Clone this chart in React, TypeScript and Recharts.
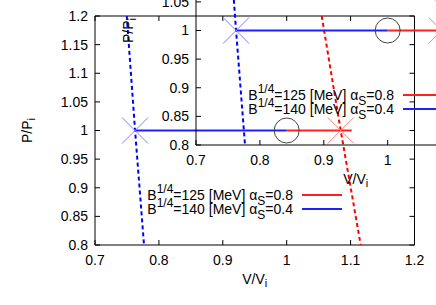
import React from "react";
import { ComposedChart, Line, Scatter, XAxis, YAxis, ReferenceArea } from "recharts";

// tick values
const xTicks = [0.7, 0.8, 0.9, 1, 1.1, 1.2];
const yTicks = [0.8, 0.85, 0.9, 0.95, 1, 1.05, 1.1, 1.15, 1.2];

// curves (v = V/Vi, p = P/Pi)
const blueDashed = [
  { v: 0.7497, p: 1.2 },
  { v: 0.7627, p: 1.0 },
  { v: 0.7767, p: 0.8 },
];
const redDashed = [
  { v: 1.0548, p: 1.2 },
  { v: 1.0662, p: 1.123 },
  { v: 1.0845, p: 1.0 },
  { v: 1.1002, p: 0.9 },
  { v: 1.1158, p: 0.8 },
];
const blueSolid = [
  { v: 0.7627, p: 1 },
  { v: 1.0, p: 1 },
];
const redSolid = [
  { v: 1.0, p: 1 },
  { v: 1.1017, p: 1 },
];
const blueCross = [{ v: 0.7627, p: 1 }];
const redCross = [{ v: 1.0845, p: 1 }];
const circles = [{ v: 1.0, p: 1 }];

// legend
const bagValues = ["125", "140"];
const alphaValues = ["0.8", "0.4"];

const W = 436;
const H = 305;
const LEFT = 95;
const RIGHT = 414.5;
const TOP = 16;
const BOTTOM = 245;
const INSET_DX = 101;
const INSET_DY = -100;
const FONT = '"Liberation Sans", Arial, sans-serif';
const RED = "#ff2020";
const BLUE = "#2020ff";
const lineColors = [RED, BLUE];

const fmt = (v: number) => String(v);

const XTick = (props: any) => {
  const { x, payload } = props;
  return (
    <g>
      <line x1={x} x2={x} y1={BOTTOM} y2={BOTTOM - 5} stroke="#000" />
      <line x1={x} x2={x} y1={TOP} y2={TOP + 5} stroke="#000" />
      <text x={x} y={265} textAnchor="middle" fontSize={14} fill="#000" fontFamily={FONT}>
        {fmt(payload.value)}
      </text>
    </g>
  );
};

const YTick = (props: any) => {
  const { y, payload } = props;
  return (
    <g>
      <line x1={LEFT} x2={LEFT + 5} y1={y} y2={y} stroke="#000" />
      <line x1={RIGHT} x2={RIGHT - 5} y1={y} y2={y} stroke="#000" />
      <text x={88} y={y} dy="0.35em" textAnchor="end" fontSize={14} fill="#000" fontFamily={FONT}>
        {fmt(payload.value)}
      </text>
    </g>
  );
};

const xTitle = () => (
  <text x={(LEFT + RIGHT) / 2} y={284} textAnchor="middle" fontSize={14} fill="#000" fontFamily={FONT}>
    V/V
    <tspan fontSize={11} dy={3}>i</tspan>
  </text>
);

const yTitle = () => (
  <text
    x={32}
    y={(TOP + BOTTOM) / 2}
    transform={`rotate(-90, 32, ${(TOP + BOTTOM) / 2})`}
    textAnchor="middle"
    fontSize={14}
    fill="#000"
    fontFamily={FONT}
  >
    P/P
    <tspan fontSize={11} dy={3}>i</tspan>
  </text>
);

const crossShape = (color: string) => (props: any) => {
  const { cx, cy } = props;
  return (
    <g>
      <line x1={cx - 13} y1={cy - 13} x2={cx + 13} y2={cy + 13} stroke={color} strokeWidth={1} />
      <line x1={cx - 13} y1={cy + 13} x2={cx + 13} y2={cy - 13} stroke={color} strokeWidth={1} />
    </g>
  );
};

const circleShape = (props: any) => (
  <circle cx={props.cx} cy={props.cy} r={12.5} fill="none" stroke="#444" strokeWidth={1} />
);

const Panel = ({ dx, dy }: { dx: number; dy: number }) => (
  <div style={{ position: "absolute", left: dx, top: dy, width: W, height: H }}>
    <ComposedChart
      width={W}
      height={H}
      margin={{ top: TOP, right: W - RIGHT, bottom: H - BOTTOM - 30, left: LEFT - 60 }}
    >
      <XAxis
        dataKey="v"
        type="number"
        domain={[0.7, 1.2]}
        ticks={xTicks}
        interval={0}
        allowDataOverflow
        height={30}
        tickSize={0}
        tickMargin={0}
        tickLine={false}
        axisLine={false}
        tick={XTick}
        label={xTitle}
      />
      <YAxis
        dataKey="p"
        type="number"
        domain={[0.8, 1.2]}
        ticks={yTicks}
        interval={0}
        allowDataOverflow
        width={60}
        tickSize={0}
        tickMargin={0}
        tickLine={false}
        axisLine={false}
        tick={YTick}
        label={yTitle}
      />
      <ReferenceArea x1={0.7} x2={1.2} y1={0.8} y2={1.2} fill="none" stroke="#000" strokeWidth={1} fillOpacity={0} />
      <Line data={blueDashed} dataKey="p" type="linear" stroke="#0000ff" strokeWidth={2} strokeDasharray="4 3" dot={false} isAnimationActive={false} />
      <Line data={redDashed} dataKey="p" type="linear" stroke="#ff0000" strokeWidth={2} strokeDasharray="4 3" dot={false} isAnimationActive={false} />
      <Line data={blueSolid} dataKey="p" type="linear" stroke={BLUE} strokeWidth={2} dot={false} isAnimationActive={false} />
      <Line data={redSolid} dataKey="p" type="linear" stroke={RED} strokeWidth={2} dot={false} isAnimationActive={false} />
      <Scatter data={blueCross} shape={crossShape("#8080ff")} isAnimationActive={false} />
      <Scatter data={redCross} shape={crossShape("#ff8080")} isAnimationActive={false} />
      <Scatter data={circles} shape={circleShape} isAnimationActive={false} />
    </ComposedChart>
    {bagValues.map((b, i) => (
      <React.Fragment key={b}>
        <div
          style={{
            position: "absolute",
            left: 60,
            width: 233,
            top: 187.6 + i * 14,
            textAlign: "right",
            fontSize: 14,
            lineHeight: "14px",
            whiteSpace: "nowrap",
            color: "#000",
            fontFamily: FONT,
          }}
        >
          B<span style={{ fontSize: 12, position: "relative", top: -7, lineHeight: 0 }}>1/4</span>={b} [MeV] α
          <span style={{ fontSize: 12, position: "relative", top: 5, lineHeight: 0 }}>S</span>={alphaValues[i]}
        </div>
        <div
          style={{
            position: "absolute",
            left: 302,
            width: 40,
            top: 194 + i * 14,
            height: 2,
            background: lineColors[i],
          }}
        />
      </React.Fragment>
    ))}
  </div>
);

export default function App() {
  return (
    <div
      style={{
        position: "absolute",
        left: 0,
        top: 0,
        width: W,
        height: H,
        overflow: "hidden",
        background: "#fff",
        fontFamily: FONT,
      }}
    >
      <Panel dx={0} dy={0} />
      <Panel dx={INSET_DX} dy={INSET_DY} />
    </div>
  );
}
